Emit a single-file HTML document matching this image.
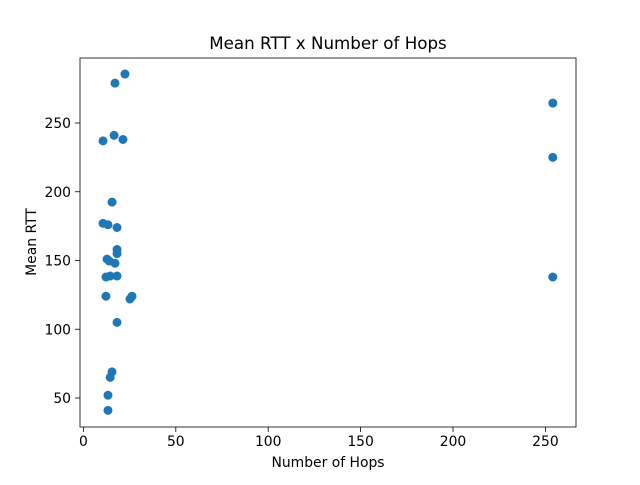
<!DOCTYPE html>
<html><head><meta charset="utf-8"><style>
body{margin:0;background:#fff}
svg text{font-family:"DejaVu Sans","Liberation Sans",sans-serif;fill:#000}
</style></head><body>
<svg id="chart" width="640" height="480" xmlns="http://www.w3.org/2000/svg">
<rect width="640" height="480" fill="#fff"/>
<text x="328" y="49" font-size="16.7" text-anchor="middle">Mean RTT x Number of Hops</text>
<text x="328" y="467" font-size="13.9" text-anchor="middle">Number of Hops</text>
<text x="0" y="0" font-size="13.9" text-anchor="middle" transform="translate(36,242) rotate(-90)">Mean RTT</text>
<g id="ticks"></g>
<g id="points"></g>
<rect x="80" y="58" width="496" height="369" fill="none" stroke="#000" stroke-width="0.8"/>
</svg>
<script>
const hops = [22.5,17.1,254,16.6,21.4,10.6,254,15.5,10.6,13.3,18.2,18.2,18.2,12.8,14,17.1,12.2,14.5,18.2,254,12.2,26.3,25.2,18.2,15.5,14.5,13.3,13.3];
const rtt = [285.6,279,264.5,241,238,237,225,192.5,177,176,174,158,155,151,149.6,148,138,138.7,138.7,138,124,124,122,105,69,65,52,41];
const xTicks = [0,50,100,150,200,250];
const yTicks = [50,100,150,200,250];
const NS="http://www.w3.org/2000/svg";
function xs(v){return 83.4+v*1.848;}
function ys(v){return 398-(v-50)*1.375;}
const tg=document.getElementById('ticks');
xTicks.forEach(t=>{
  const l=document.createElementNS(NS,'line');
  l.setAttribute('x1',xs(t));l.setAttribute('x2',xs(t));l.setAttribute('y1',427);l.setAttribute('y2',432);l.setAttribute('stroke','#000');l.setAttribute('stroke-width','0.8');
  
  
  tg.appendChild(l);
  const tx=document.createElementNS(NS,'text');
  tx.setAttribute('x',xs(t));tx.setAttribute('y',446);tx.setAttribute('font-size','13.9');tx.setAttribute('text-anchor','middle');tx.textContent=t;
  
  
  tg.appendChild(tx);
});
yTicks.forEach(t=>{
  const l=document.createElementNS(NS,'line');
  l.setAttribute('x1',75);l.setAttribute('x2',80);l.setAttribute('y1',ys(t));l.setAttribute('y2',ys(t));l.setAttribute('stroke','#000');l.setAttribute('stroke-width','0.8');
  
  
  tg.appendChild(l);
  const tx=document.createElementNS(NS,'text');
  tx.setAttribute('x',71);tx.setAttribute('y',ys(t)+5);tx.setAttribute('font-size','13.9');tx.setAttribute('text-anchor','end');tx.textContent=t;
  
  
  tg.appendChild(tx);
});
const pg=document.getElementById('points');
hops.forEach((h,i)=>{
  const c=document.createElementNS(NS,'circle');
  c.setAttribute('cx',xs(h));c.setAttribute('cy',ys(rtt[i]));c.setAttribute('r',4.5);c.setAttribute('fill','#1f77b4');
  
  
  pg.appendChild(c);
});
</script>
</body></html>
